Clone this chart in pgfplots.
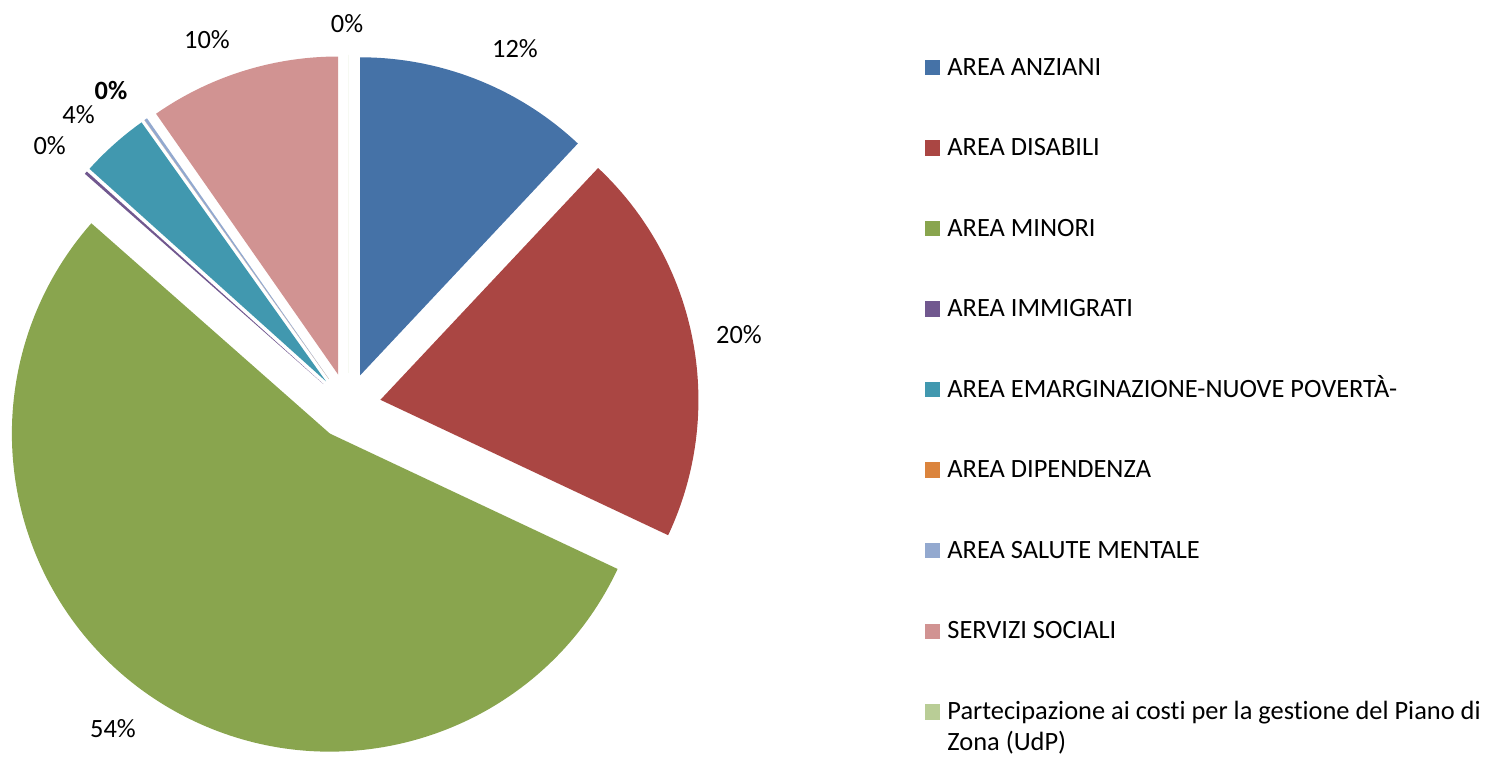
\documentclass[border=0pt]{standalone}
\usepackage{pgfplots}
\pgfplotsset{compat=1.18}
\usepackage{pgfplotstable}
\usepackage{fontspec}
\setmainfont{Carlito}[Ligatures=NoCommon]
\definecolor{anz}{HTML}{4572A7}
\definecolor{dis}{HTML}{AA4643}
\definecolor{mino}{HTML}{89A54E}
\definecolor{imm}{HTML}{71588F}
\definecolor{ema}{HTML}{4198AF}
\definecolor{dip}{HTML}{DB843D}
\definecolor{sal}{HTML}{93A9CF}
\definecolor{ser}{HTML}{D19392}
\definecolor{par}{HTML}{B9CD96}
% share of each area in percent, clockwise from 12 o'clock
\pgfplotstableread{
value color
12.0 anz
20.0 dis
54.5 mino
0.15 imm
3.5 ema
0.0 dip
0.15 sal
9.7 ser
0.0 par
}\piedata
\newcommand\lfont{\fontsize{13.2}{15.5}\selectfont}
\begin{document}
\lfont
\begin{tikzpicture}[font=\lfont]
\begin{axis}[width=754pt,height=380pt,scale only axis,
  xmin=0,xmax=1508,ymin=0,ymax=760,hide axis,clip=false,
  nodes={inner sep=0pt}]
\coordinate (ll) at (axis cs:0,0);
\coordinate (ur) at (axis cs:1508,760);
\def\scum{0}
\pgfplotsforeachungrouped \i in {0,...,8}{%
  \pgfplotstablegetelem{\i}{value}\of\piedata \let\sval\pgfplotsretval
  \pgfplotstablegetelem{\i}{color}\of\piedata \let\scol\pgfplotsretval
  \pgfmathsetmacro\sa{90-3.6*\scum}%
  \pgfmathsetmacro\scum{\scum+\sval}%
  \pgfmathsetmacro\sb{90-3.6*\scum}%
  \pgfmathsetmacro\sm{(\sa+\sb)/2}%
  \pgfmathsetmacro\sx{348+33*cos(\sm)}%
  \pgfmathsetmacro\sy{354+33*sin(\sm)}%
  \edef\tmp{\noexpand\fill[\scol] (axis cs:\sx,\sy) -- ++(\sa:159pt) arc[start angle=\sa, end angle=\sb, radius=159pt] -- cycle;}%
  \tmp
}
% data labels
\node[anchor=base,font=\lfont] at (axis cs:515,702.5) {12\%};
\node[anchor=base,font=\lfont] at (axis cs:739,416) {20\%};
\node[anchor=base,font=\lfont] at (axis cs:113,22.5) {54\%};
\node[anchor=base,font=\lfont] at (axis cs:49.7,605) {0\%};
\node[anchor=base,font=\lfont] at (axis cs:78.5,636) {4\%};
\node[anchor=base,font=\lfont\bfseries] at (axis cs:111,660.5) {0\%};
\node[anchor=base,font=\lfont] at (axis cs:207,711) {10\%};
\node[anchor=base,font=\lfont] at (axis cs:347,727.5) {0\%};
% legend
\tikzset{leg/.style={anchor=base west,font=\lfont}}
\fill[anz]  (axis cs:925,684.5) rectangle (axis cs:940,700);
\node[leg] at (axis cs:947,684.5) {AREA ANZIANI};
\fill[dis]  (axis cs:925,604) rectangle (axis cs:940,619.5);
\node[leg] at (axis cs:947,604) {AREA DISABILI};
\fill[mino] (axis cs:925,523.5) rectangle (axis cs:940,539);
\node[leg] at (axis cs:947,523.5) {AREA MINORI};
\fill[imm]  (axis cs:925,443) rectangle (axis cs:940,458.5);
\node[leg] at (axis cs:947,443) {AREA IMMIGRATI};
\fill[ema]  (axis cs:925,362.5) rectangle (axis cs:940,378);
\node[leg] at (axis cs:947,362.5) {AREA EMARGINAZIONE-NUOVE POVERTÀ-};
\fill[dip]  (axis cs:925,282) rectangle (axis cs:940,297.5);
\node[leg] at (axis cs:947,282) {AREA DIPENDENZA};
\fill[sal]  (axis cs:925,201.5) rectangle (axis cs:940,217);
\node[leg] at (axis cs:947,201.5) {AREA SALUTE MENTALE};
\fill[ser]  (axis cs:925,121) rectangle (axis cs:940,136.5);
\node[leg] at (axis cs:947,121) {SERVIZI SOCIALI};
\fill[par]  (axis cs:925,40.5) rectangle (axis cs:940,56);
\node[leg] at (axis cs:947,40.5) {Partecipazione ai costi per la gestione del Piano di};
\node[leg] at (axis cs:947,9.5) {Zona (UdP)};
\end{axis}
\pgfresetboundingbox
\path[use as bounding box] (ll) rectangle (ur);
\end{tikzpicture}
\end{document}
